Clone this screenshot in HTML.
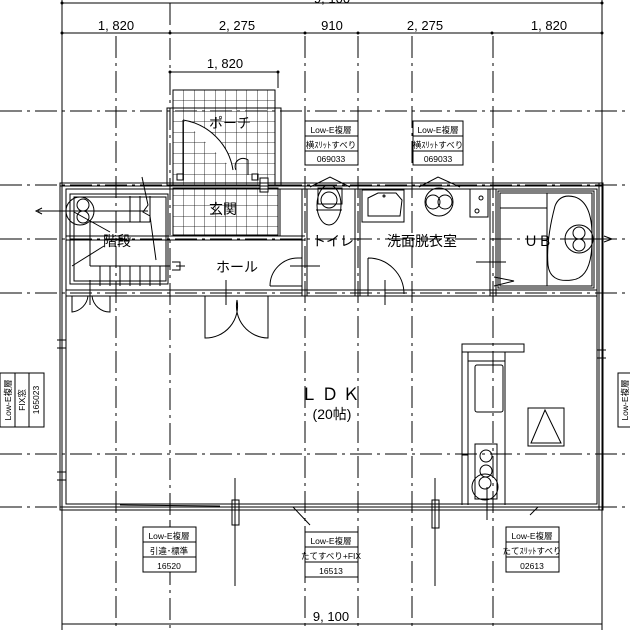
<!DOCTYPE html>
<html><head><meta charset="utf-8"><style>
html,body{margin:0;padding:0;background:#fff;}
svg{display:block;}
text{font-family:"Liberation Sans","Noto Sans CJK JP",sans-serif;fill:#000;}
</style></head><body>
<svg width="630" height="630" viewBox="0 0 630 630" xmlns="http://www.w3.org/2000/svg">
<defs>
<pattern id="tile" x="173" y="90" width="10.5" height="10.5" patternUnits="userSpaceOnUse">
<path d="M0 0H10.5M0 0V10.5" stroke="#000" stroke-width="0.8" fill="none"/>
</pattern>
</defs>
<g stroke="#000" fill="none" stroke-width="1">
<!-- dimension lines -->
<line x1="62" y1="3" x2="602" y2="3"/>
<line x1="62" y1="33" x2="602" y2="33"/>
<line x1="170" y1="72" x2="278" y2="72"/>
<line x1="62" y1="624" x2="602" y2="624"/>
<line x1="62" y1="0" x2="62" y2="630"/>
<line x1="602" y1="0" x2="602" y2="630"/>
<line x1="278" y1="72" x2="278" y2="88"/>
</g>
<g fill="#000">
<circle cx="62" cy="3" r="1.5"/><circle cx="602" cy="3" r="1.5"/>
<circle cx="62" cy="33" r="1.5"/><circle cx="170" cy="33" r="1.5"/><circle cx="305" cy="33" r="1.5"/><circle cx="358" cy="33" r="1.5"/><circle cx="492" cy="33" r="1.5"/><circle cx="602" cy="33" r="1.5"/>
<circle cx="170" cy="72" r="1.5"/><circle cx="278" cy="72" r="1.5"/>
</g>
<!-- grid lines dash-dot -->
<g stroke="#000" fill="none" stroke-width="1" stroke-dasharray="22 5 3 5">
<line x1="116" y1="36" x2="116" y2="630"/>
<line x1="170" y1="3" x2="170" y2="630"/>
<line x1="305" y1="36" x2="305" y2="630"/>
<line x1="358" y1="36" x2="358" y2="630"/>
<line x1="412" y1="36" x2="412" y2="630"/>
<line x1="493" y1="36" x2="493" y2="630"/>
<line x1="0" y1="111" x2="630" y2="111"/>
<line x1="0" y1="185" x2="630" y2="185"/>
<line x1="0" y1="239" x2="630" y2="239"/>
<line x1="0" y1="293" x2="630" y2="293"/>
<line x1="0" y1="454" x2="630" y2="454"/>
<line x1="0" y1="507" x2="630" y2="507"/>
</g>
<!-- dimension text -->
<g font-size="13" text-anchor="middle">
<text x="332" y="3">9, 100</text>
<text x="116" y="30">1, 820</text>
<text x="237" y="30">2, 275</text>
<text x="332" y="30">910</text>
<text x="425" y="30">2, 275</text>
<text x="549" y="30">1, 820</text>
<text x="225" y="68">1, 820</text>
<text x="331" y="621">9, 100</text>
</g>
<!-- porch & genkan tiles -->
<rect x="173" y="90" width="102" height="95" fill="url(#tile)" stroke="#000"/>
<rect x="173" y="188" width="105" height="47" fill="url(#tile)" stroke="#000"/>
<rect x="167" y="108" width="114" height="77" fill="none" stroke="#000"/>
<!-- porch door -->
<path d="M183 120 L183 180 M183 120 A60 60 0 0 1 233 170" fill="#fff" stroke="#000"/>
<path d="M236 170 A8 8 0 0 1 248 160 L248 175" fill="none" stroke="#000"/>
<rect x="177" y="174" width="6" height="6" fill="none" stroke="#000"/>
<rect x="252" y="174" width="6" height="6" fill="none" stroke="#000"/>
<rect x="260" y="178" width="8" height="14" fill="#fff" stroke="#000"/>
<!-- outer walls -->
<g stroke="#000" fill="none" stroke-width="1">
<rect x="60" y="183" width="543" height="327"/>
<rect x="66" y="189" width="531" height="315"/>
<line x1="60" y1="186" x2="603" y2="186"/>
<line x1="62" y1="183" x2="62" y2="510"/>
<line x1="599" y1="183" x2="599" y2="510"/>
<line x1="60" y1="507" x2="603" y2="507"/>
<!-- interior walls -->
<line x1="66" y1="236" x2="305" y2="236"/><line x1="66" y1="240" x2="305" y2="240"/>
<line x1="66" y1="290" x2="597" y2="290"/><line x1="66" y1="296" x2="597" y2="296"/>
<line x1="302" y1="189" x2="302" y2="296"/><line x1="307" y1="189" x2="307" y2="296"/>
<line x1="355" y1="189" x2="355" y2="296"/><line x1="360" y1="189" x2="360" y2="296"/>
<line x1="490" y1="189" x2="490" y2="296"/><line x1="496" y1="189" x2="496" y2="296"/>
<line x1="280" y1="189" x2="280" y2="236"/>
<!-- stairs -->
<rect x="70" y="194" width="98" height="90"/>
<rect x="74" y="197" width="92" height="84"/>
<line x1="90" y1="222" x2="150" y2="222"/>
<line x1="90" y1="222" x2="90" y2="266"/>
<line x1="90" y1="266" x2="170" y2="266"/>
<line x1="130" y1="196" x2="130" y2="222"/>
<line x1="140" y1="196" x2="140" y2="222"/>
<line x1="150" y1="196" x2="150" y2="222"/>
<line x1="100" y1="266" x2="100" y2="286"/><line x1="110" y1="266" x2="110" y2="286"/><line x1="120" y1="266" x2="120" y2="286"/><line x1="130" y1="266" x2="130" y2="286"/><line x1="140" y1="266" x2="140" y2="286"/><line x1="150" y1="266" x2="150" y2="286"/><line x1="160" y1="266" x2="160" y2="286"/>
<path d="M142 177 L148 205 L143 212 L150 216 L156 260"/>
<line x1="74" y1="212" x2="110" y2="232"/>
<line x1="72" y1="266" x2="104" y2="246"/>
<circle cx="80" cy="211" r="14"/>
<circle cx="83" cy="205" r="6"/><circle cx="83" cy="217" r="6"/>
<line x1="38" y1="211" x2="148" y2="211"/>
<path d="M42 208 L36 211 L42 214"/>
<!-- stair side doors -->
<path d="M72 296 L72 312 A18 18 0 0 0 88 296"/>
<path d="M110 296 L110 312 A18 18 0 0 1 92 296"/>
<line x1="90" y1="280" x2="90" y2="305"/>
<!-- hole doors -->
<path d="M205 296 L205 338 A32 32 0 0 0 237 300"/>
<path d="M268 296 L268 338 A32 32 0 0 1 237 300"/>
<line x1="226" y1="280" x2="226" y2="305"/>
<path d="M270 286 A28 28 0 0 1 298 258 L302 258"/>
<line x1="270" y1="286" x2="302" y2="286"/>
<line x1="290" y1="266" x2="320" y2="266"/>
<path d="M172 262 L180 262 L180 270 L172 270 M176 266 L185 266"/>
<!-- wash door -->
<path d="M368 258 L368 296 M368 258 A36 36 0 0 1 404 294"/>
<line x1="385" y1="280" x2="385" y2="305"/>
<line x1="476" y1="262" x2="506" y2="262"/>
<!-- toilet -->
<ellipse cx="329" cy="205" rx="12" ry="20"/>
<rect x="318" y="188" width="24" height="16"/>
<circle cx="329" cy="200" r="8"/>
<line x1="316" y1="210" x2="342" y2="210"/>
<path d="M310 187 L330 177 L350 187"/>
<!-- basin -->
<rect x="362" y="190" width="42" height="32"/>
<path d="M368 198 L378 193 L396 193 L402 200 L400 216 L368 216 Z"/>
<circle cx="384" cy="196" r="1"/>
<!-- washer -->
<circle cx="439" cy="202" r="14"/><circle cx="433" cy="202" r="7"/><circle cx="445" cy="202" r="7"/>
<path d="M419 187 L438 177 L460 187"/>
<rect x="470" y="189" width="18" height="28"/>
<circle cx="481" cy="198" r="2"/><circle cx="477" cy="211" r="2"/>
<!-- UB -->
<rect x="498" y="191" width="96" height="97"/>
<rect x="500" y="193" width="92" height="93"/>
<line x1="547" y1="193" x2="547" y2="286"/>
<line x1="500" y1="208" x2="547" y2="208"/>
<path d="M555 206 Q560 193 575 197 Q593 203 592 240 Q592 278 572 280 Q550 283 548 265 Q546 240 555 206 Z"/>
<circle cx="579" cy="239" r="14"/><circle cx="579" cy="233" r="6"/><circle cx="579" cy="245" r="6"/>
<line x1="565" y1="239" x2="610" y2="239"/>
<path d="M604 236 L612 239 L604 242"/>
<path d="M494 277 L514 281 L494 286"/>
<!-- kitchen -->
<rect x="462" y="344" width="62" height="8"/>
<line x1="462" y1="344" x2="462" y2="505"/>
<line x1="468" y1="352" x2="468" y2="505"/>
<line x1="468" y1="361" x2="505" y2="361"/>
<line x1="505" y1="352" x2="505" y2="505"/>
<rect x="475" y="365" width="28" height="47" rx="2"/>
<rect x="475" y="444" width="22" height="55"/>
<circle cx="486" cy="456" r="6"/><circle cx="486" cy="471" r="6"/>
<circle cx="485" cy="487" r="13"/><circle cx="485" cy="483" r="6"/>
<line x1="462" y1="455" x2="468" y2="455"/>
<line x1="487" y1="487" x2="487" y2="520"/>
<rect x="528" y="408" width="36" height="38"/>
<path d="M531 443 L545 410 L561 443 Z"/>
<!-- bottom window marks -->
<line x1="170" y1="521" x2="170" y2="535"/>
<rect x="232" y="530" width="7" height="25" transform="translate(0,-30)"/>
<line x1="235" y1="478" x2="235" y="500" y2="586"/>
<rect x="432" y="500" width="7" height="28"/>
<line x1="435" y1="478" x2="435" y2="586"/>
<line x1="120" y1="505" x2="220" y2="506"/>
<line x1="293" y1="507" x2="310" y2="525"/>
<line x1="530" y1="515" x2="538" y2="507"/>
<!-- left/right side wall window marks -->
<line x1="57" y1="340" x2="66" y2="340"/><line x1="57" y1="348" x2="66" y2="348"/>
<line x1="57" y1="472" x2="66" y2="472"/><line x1="57" y1="480" x2="66" y2="480"/>
<line x1="597" y1="350" x2="606" y2="350"/><line x1="597" y1="358" x2="606" y2="358"/>
</g>
<!-- window label boxes -->
<g stroke="#000" fill="#fff" stroke-width="1">
<rect x="305" y="121" width="53" height="44"/><line x1="305" y1="136" x2="358" y2="136"/><line x1="305" y1="151" x2="358" y2="151"/>
<rect x="413" y="121" width="50" height="44"/><line x1="413" y1="136" x2="463" y2="136"/><line x1="413" y1="151" x2="463" y2="151"/>
<rect x="143" y="527" width="53" height="45"/><line x1="143" y1="542" x2="196" y2="542"/><line x1="143" y1="557" x2="196" y2="557"/>
<rect x="305" y="532" width="53" height="45"/><line x1="305" y1="547" x2="358" y2="547"/><line x1="305" y1="562" x2="358" y2="562"/>
<rect x="506" y="527" width="53" height="45"/><line x1="506" y1="542" x2="559" y2="542"/><line x1="506" y1="557" x2="559" y2="557"/>
<rect x="0" y="373" width="44" height="54"/><line x1="15" y1="373" x2="15" y2="427"/><line x1="29" y1="373" x2="29" y2="427"/>
<rect x="618" y="373" width="14" height="54"/>
</g>
<g font-size="8.5" text-anchor="middle">
<text x="331" y="133">Low-E複層</text><text x="331" y="148">横ｽﾘｯﾄすべり</text><text x="331" y="162">069033</text>
<text x="438" y="133">Low-E複層</text><text x="438" y="148">横ｽﾘｯﾄすべり</text><text x="438" y="162">069033</text>
<text x="169" y="539">Low-E複層</text><text x="169" y="554">引違･標準</text><text x="169" y="569">16520</text>
<text x="331" y="544">Low-E複層</text><text x="331" y="559">たてすべり+FIX</text><text x="331" y="574">16513</text>
<text x="532" y="539">Low-E複層</text><text x="532" y="554">たてｽﾘｯﾄすべり</text><text x="532" y="569">02613</text>
<text transform="translate(11,400) rotate(-90)">Low-E複層</text>
<text transform="translate(25,400) rotate(-90)">FIX窓</text>
<text transform="translate(39,400) rotate(-90)">165023</text>
<text transform="translate(628,400) rotate(-90)">Low-E複層</text>
</g>
<!-- room labels -->
<g font-size="14" text-anchor="middle">
<text x="230" y="128">ポーチ</text>
<text x="223" y="214" fill="#000">玄関</text>
<text x="117" y="246">階段</text>
<text x="237" y="272">ホール</text>
<text x="333" y="246">トイレ</text>
<text x="422" y="246">洗面脱衣室</text>
<text x="538" y="246">ＵＢ</text>
<text x="332" y="400" font-size="17" letter-spacing="4">ＬＤＫ</text>
<text x="332" y="419" font-size="14">(20帖)</text>
</g>
</svg>
</body></html>
